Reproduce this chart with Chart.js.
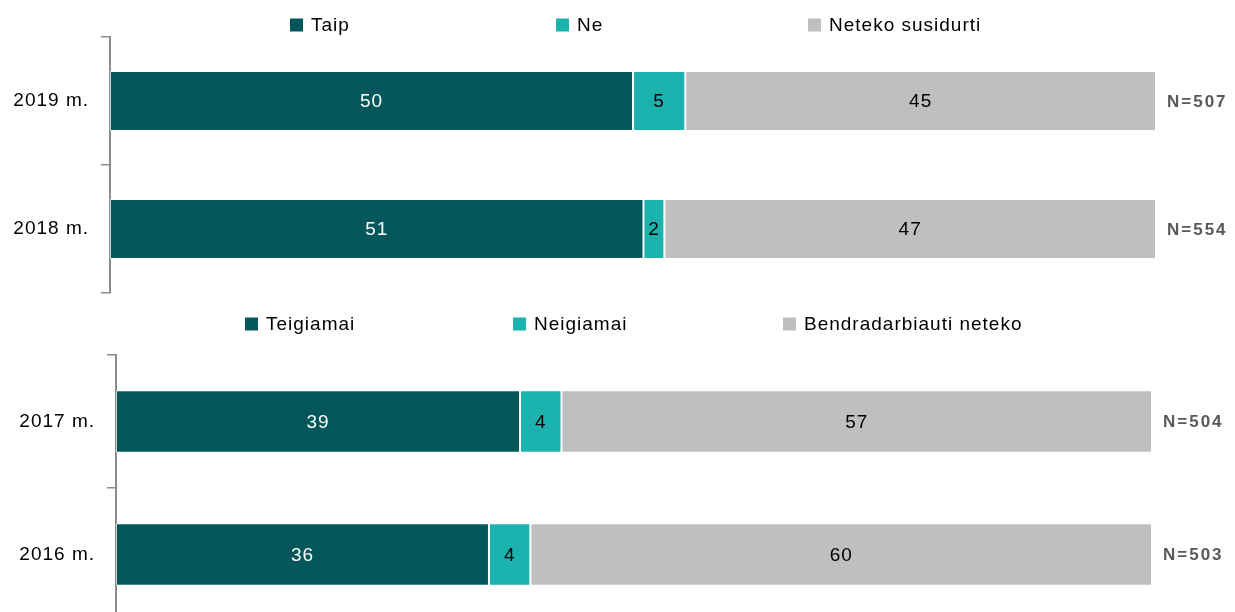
<!DOCTYPE html>
<html>
<head>
<meta charset="utf-8">
<script src="https://cdn.jsdelivr.net/npm/chart.js@4/dist/chart.umd.min.js"></script>
<style>
    body { margin: 0; background: #fff; overflow: hidden; width: 1235px; height: 612px; position: relative; }
    .dezute { position: absolute; left: 0; width: 1235px; }
</style>
</head>
<body>
<div class="dezute" style="top:0;height:300px"><canvas id="chartVirsus"></canvas></div>
<div class="dezute" style="top:300px;height:330px"><canvas id="chartApacia"></canvas></div>
<script>
// Viršutinė dalis (2019, 2018)
const metaiVirsus = ['2019 m.', '2018 m.'];
const taip = [50, 51];
const ne = [5, 2];
const netekoSusidurti = [45, 47];
const nVirsus = ['N=507', 'N=554'];

// Apatinė dalis (2017, 2016)
const metaiApacia = ['2017 m.', '2016 m.'];
const teigiamai = [39, 36];
const neigiamai = [4, 4];
const bendradarbiautiNeteko = [57, 60];
const nApacia = ['N=504', 'N=503'];

const spalvos = ['#03575B', '#1CB2AE', '#BFBFBF'];
const reiksmiuSpalvos = ['#FFFFFF', '#000000', '#000000'];
const sriftas = '"Liberation Sans", Arial, sans-serif';

// Tarpai tarp raidžių kaip originale
const tarpaiPlugin = {
    id: 'tarpai',
    beforeLayout(chart) { chart.ctx.letterSpacing = '1px'; },
    beforeDraw(chart) { chart.ctx.letterSpacing = '1px'; }
};

// Legenda piešiama ranka, kad tilptų kaip originale
const legendaPlugin = {
    id: 'legenda',
    afterDraw(chart, args, opts) {
        const ctx = chart.ctx;
        ctx.save();
        ctx.letterSpacing = '1px';
        ctx.font = '19px ' + sriftas;
        ctx.textBaseline = 'middle';
        ctx.textAlign = 'left';
        chart.data.datasets.forEach((ds, i) => {
            const x = opts.x[i];
            ctx.fillStyle = ds.backgroundColor;
            ctx.fillRect(x, opts.y - 6.5, 13, 13);
            ctx.fillStyle = '#000';
            ctx.fillText(ds.label, x + 21, opts.y + 1);
        });
        ctx.restore();
    }
};

// Reikšmės stulpelių viduje ir N dešinėje
const reiksmesPlugin = {
    id: 'reiksmes',
    afterDatasetsDraw(chart, args, opts) {
        const ctx = chart.ctx;
        ctx.save();
        ctx.letterSpacing = '1px';
        ctx.font = '19px ' + sriftas;
        ctx.textAlign = 'center';
        ctx.textBaseline = 'middle';
        chart.data.datasets.forEach((ds, i) => {
            chart.getDatasetMeta(i).data.forEach((bar, j) => {
                ctx.fillStyle = reiksmiuSpalvos[i];
                ctx.fillText(ds.data[j], (bar.x + bar.base) / 2, bar.y + 1);
            });
        });
        ctx.letterSpacing = '2px';
        ctx.font = 'bold 17px ' + sriftas;
        ctx.textAlign = 'left';
        ctx.fillStyle = '#595959';
        opts.n.forEach((t, j) => {
            const y = chart.scales.y.getPixelForValue(j);
            ctx.fillText(t, chart.chartArea.right + 11, y + 1);
        });
        ctx.restore();
    }
};

function piestiGrafika(id, metai, serijos, pavadinimai, n, nust) {
    const ctx = document.getElementById(id).getContext('2d');
    const datasets = serijos.map((s, i) => {
        return {
            label: pavadinimai[i],
            data: s,
            backgroundColor: spalvos[i],
            borderColor: 'rgba(255,255,255,0.6)',
            borderWidth: 1,
            borderSkipped: false,
            barPercentage: nust.barPct,
            categoryPercentage: 1
        };
    });

    new Chart(ctx, {
        type: 'bar',
        data: {
            labels: metai,
            datasets: datasets
        },
        plugins: [tarpaiPlugin, legendaPlugin, reiksmesPlugin],
        options: {
            indexAxis: 'y',
            responsive: true,
            maintainAspectRatio: false,
            animation: false,
            layout: {
                padding: { top: nust.top, right: nust.right, bottom: nust.bottom, left: 0 }
            },
            scales: {
                x: {
                    stacked: true,
                    display: false,
                    min: 0,
                    max: 100
                },
                y: {
                    stacked: true,
                    afterFit: (scale) => {
                        scale.width = nust.left;
                        scale.paddingTop = 0;
                        scale.paddingBottom = 0;
                    },
                    grid: {
                        drawOnChartArea: false,
                        drawTicks: true,
                        tickLength: 9,
                        color: '#8C8C8C',
                        lineWidth: 1.5
                    },
                    border: { display: true, color: '#8C8C8C', width: 2 },
                    ticks: {
                        color: '#000',
                        padding: nust.tickPad,
                        font: { family: sriftas, size: 19 }
                    }
                }
            },
            plugins: {
                legend: { display: false },
                tooltip: { enabled: false },
                legenda: { x: nust.legX, y: nust.legY },
                reiksmes: { n: n }
            }
        }
    });
}

piestiGrafika('chartVirsus', metaiVirsus, [taip, ne, netekoSusidurti],
    ['Taip', 'Ne', 'Neteko susidurti'], nVirsus,
    { top: 37, bottom: 7, right: 79, left: 110, tickPad: 12, barPct: 0.47,
      legX: [290, 556, 808], legY: 25 });

piestiGrafika('chartApacia', metaiApacia, [teigiamai, neigiamai, bendradarbiautiNeteko],
    ['Teigiamai', 'Neigiamai', 'Bendradarbiauti neteko'], nApacia,
    { top: 55, bottom: 9, right: 83, left: 116, tickPad: 12, barPct: 0.47,
      legX: [245, 513, 783], legY: 24 });
</script>
</body>
</html>
